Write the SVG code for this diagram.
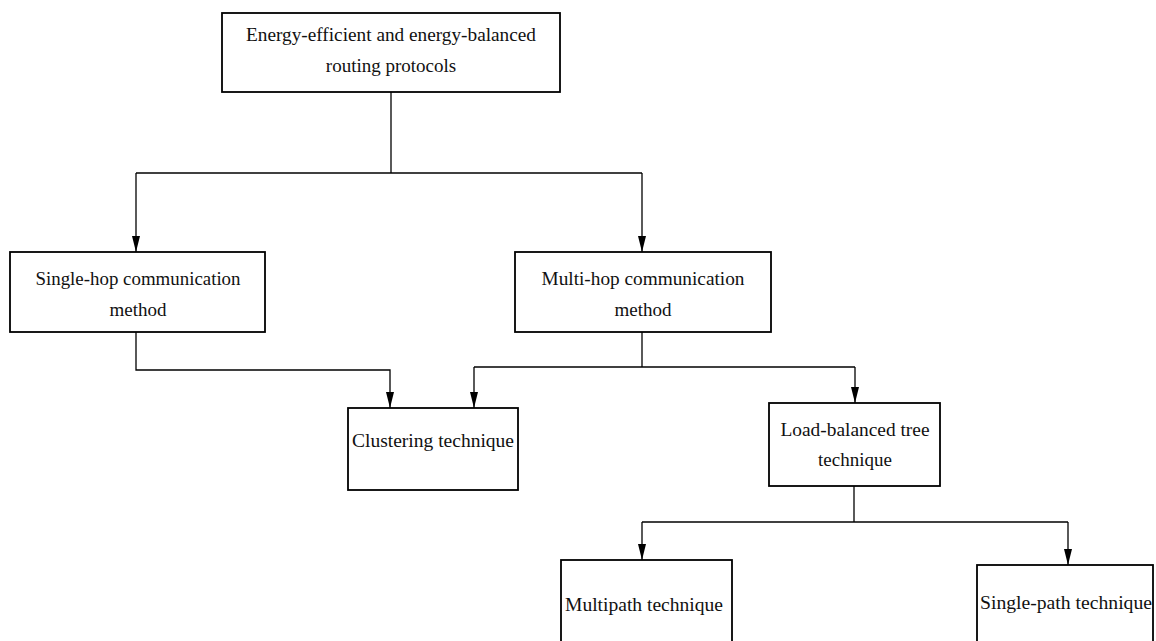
<svg xmlns="http://www.w3.org/2000/svg" width="1156" height="641" viewBox="0 0 1156 641">
<style>
.box{fill:#fff;stroke:#000;stroke-width:1.8}
.t{font-family:"Liberation Serif","DejaVu Serif",serif;font-size:19px;fill:#111;text-anchor:middle}
.c{fill:none;stroke:#000;stroke-width:1.3}
</style>
<defs>
<marker id="ah" markerWidth="16" markerHeight="8" refX="16" refY="4" orient="auto" markerUnits="userSpaceOnUse" viewBox="0 0 16 8">
<path d="M0,0 L16,4 L0,8 Z" fill="#000"/>
</marker>
</defs>
<g id="connectors">
<path class="c" d="M391,92 V173"/>
<path class="c" d="M136,173 H642"/>
<path class="c" d="M136,173 V252" marker-end="url(#ah)"/>
<path class="c" d="M642,173 V252" marker-end="url(#ah)"/>
<path class="c" d="M136,332 V370 H390 V408" marker-end="url(#ah)"/>
<path class="c" d="M642,332 V367"/>
<path class="c" d="M474,367 H855"/>
<path class="c" d="M474,367 V408" marker-end="url(#ah)"/>
<path class="c" d="M855,367 V403" marker-end="url(#ah)"/>
<path class="c" d="M854,486 V522"/>
<path class="c" d="M642,522 H1068"/>
<path class="c" d="M642,522 V560" marker-end="url(#ah)"/>
<path class="c" d="M1068,522 V565" marker-end="url(#ah)"/>
</g>
<g id="root">
<rect class="box" x="222" y="13" width="338" height="79"/>
<text class="t" x="391" y="41" textLength="290" lengthAdjust="spacingAndGlyphs">Energy-efficient and energy-balanced</text>
<text class="t" x="391" y="72">routing protocols</text>
</g>
<g id="single-hop">
<rect class="box" x="10" y="252" width="255" height="80"/>
<text class="t" x="138" y="285" textLength="205" lengthAdjust="spacingAndGlyphs">Single-hop communication</text>
<text class="t" x="138" y="316">method</text>
</g>
<g id="multi-hop">
<rect class="box" x="515" y="252" width="256" height="80"/>
<text class="t" x="643" y="285" textLength="203" lengthAdjust="spacingAndGlyphs">Multi-hop communication</text>
<text class="t" x="643" y="316">method</text>
</g>
<g id="clustering">
<rect class="box" x="348" y="408" width="170" height="82"/>
<text class="t" x="433" y="447" textLength="162" lengthAdjust="spacingAndGlyphs">Clustering technique</text>
</g>
<g id="load-balanced">
<rect class="box" x="769" y="403" width="171" height="83"/>
<text class="t" x="855" y="436" textLength="149" lengthAdjust="spacingAndGlyphs">Load-balanced tree</text>
<text class="t" x="855" y="466">technique</text>
</g>
<g id="multipath">
<rect class="box" x="561" y="560" width="171" height="90"/>
<text class="t" x="644" y="611" textLength="158" lengthAdjust="spacingAndGlyphs">Multipath technique</text>
</g>
<g id="single-path">
<rect class="box" x="977" y="565" width="176" height="90"/>
<text class="t" x="1066" y="609" textLength="172" lengthAdjust="spacingAndGlyphs">Single-path technique</text>
</g>
</svg>
